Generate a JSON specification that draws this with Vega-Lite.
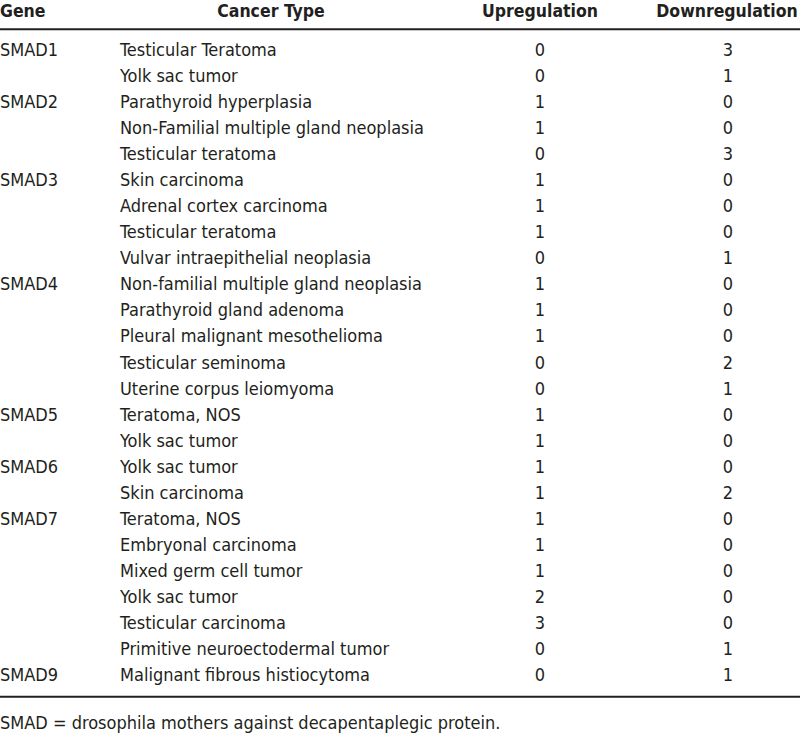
{
  "$schema": "https://vega.github.io/schema/vega-lite/v6.json",
  "width": 800,
  "height": 735,
  "padding": 0,
  "autosize": "none",
  "background": "white",
  "config": {"view": {"stroke": null}, "text": {"font": "DejaVu Sans Condensed", "fontSize": 18, "color": "#231f20", "baseline": "middle"}},
  "data": {"values": [
    {"row": 1, "gene": "SMAD1", "type": "Testicular Teratoma", "up": 0, "down": 3},
    {"row": 2, "gene": "SMAD1", "type": "Yolk sac tumor", "up": 0, "down": 1},
    {"row": 3, "gene": "SMAD2", "type": "Parathyroid hyperplasia", "up": 1, "down": 0},
    {"row": 4, "gene": "SMAD2", "type": "Non-Familial multiple gland neoplasia", "up": 1, "down": 0},
    {"row": 5, "gene": "SMAD2", "type": "Testicular teratoma", "up": 0, "down": 3},
    {"row": 6, "gene": "SMAD3", "type": "Skin carcinoma", "up": 1, "down": 0},
    {"row": 7, "gene": "SMAD3", "type": "Adrenal cortex carcinoma", "up": 1, "down": 0},
    {"row": 8, "gene": "SMAD3", "type": "Testicular teratoma", "up": 1, "down": 0},
    {"row": 9, "gene": "SMAD3", "type": "Vulvar intraepithelial neoplasia", "up": 0, "down": 1},
    {"row": 10, "gene": "SMAD4", "type": "Non-familial multiple gland neoplasia", "up": 1, "down": 0},
    {"row": 11, "gene": "SMAD4", "type": "Parathyroid gland adenoma", "up": 1, "down": 0},
    {"row": 12, "gene": "SMAD4", "type": "Pleural malignant mesothelioma", "up": 1, "down": 0},
    {"row": 13, "gene": "SMAD4", "type": "Testicular seminoma", "up": 0, "down": 2},
    {"row": 14, "gene": "SMAD4", "type": "Uterine corpus leiomyoma", "up": 0, "down": 1},
    {"row": 15, "gene": "SMAD5", "type": "Teratoma, NOS", "up": 1, "down": 0},
    {"row": 16, "gene": "SMAD5", "type": "Yolk sac tumor", "up": 1, "down": 0},
    {"row": 17, "gene": "SMAD6", "type": "Yolk sac tumor", "up": 1, "down": 0},
    {"row": 18, "gene": "SMAD6", "type": "Skin carcinoma", "up": 1, "down": 2},
    {"row": 19, "gene": "SMAD7", "type": "Teratoma, NOS", "up": 1, "down": 0},
    {"row": 20, "gene": "SMAD7", "type": "Embryonal carcinoma", "up": 1, "down": 0},
    {"row": 21, "gene": "SMAD7", "type": "Mixed germ cell tumor", "up": 1, "down": 0},
    {"row": 22, "gene": "SMAD7", "type": "Yolk sac tumor", "up": 2, "down": 0},
    {"row": 23, "gene": "SMAD7", "type": "Testicular carcinoma", "up": 3, "down": 0},
    {"row": 24, "gene": "SMAD7", "type": "Primitive neuroectodermal tumor", "up": 0, "down": 1},
    {"row": 25, "gene": "SMAD9", "type": "Malignant fibrous histiocytoma", "up": 0, "down": 1}
  ]},
  "layer": [
    {
      "transform": [
        {"window": [{"op": "row_number", "as": "rk"}], "groupby": ["gene"], "sort": [{"field": "row"}]},
        {"filter": "datum.rk == 1"}
      ],
      "mark": {"type": "text", "align": "left"},
      "encoding": {
        "x": {"datum": 0, "type": "quantitative", "scale": {"domain": [0, 800], "range": [0, 800], "nice": false, "zero": false}, "axis": null},
        "y": {"field": "row", "type": "quantitative", "scale": {"domain": [-0.96, 27.266], "reverse": true, "nice": false, "zero": false}, "axis": null},
        "text": {"field": "gene"}
      }
    },
    {
      "mark": {"type": "text", "align": "left"},
      "encoding": {
        "x": {"datum": 120, "type": "quantitative"},
        "y": {"field": "row", "type": "quantitative"},
        "text": {"field": "type"}
      }
    },
    {
      "mark": {"type": "text", "align": "center"},
      "encoding": {
        "x": {"datum": 540, "type": "quantitative"},
        "y": {"field": "row", "type": "quantitative"},
        "text": {"field": "up"}
      }
    },
    {
      "mark": {"type": "text", "align": "center"},
      "encoding": {
        "x": {"datum": 728, "type": "quantitative"},
        "y": {"field": "row", "type": "quantitative"},
        "text": {"field": "down"}
      }
    },
    {
      "data": {"values": [{"label": "Gene"}]},
      "mark": {"type": "text", "align": "left", "fontWeight": "bold", "fontSize": 17.5},
      "encoding": {
        "x": {"datum": 0, "type": "quantitative"},
        "y": {"datum": -0.5, "type": "quantitative"},
        "text": {"field": "label"}
      }
    },
    {
      "data": {"values": [{"label": "Cancer Type"}]},
      "mark": {"type": "text", "align": "center", "fontWeight": "bold", "fontSize": 17.5},
      "encoding": {
        "x": {"datum": 271, "type": "quantitative"},
        "y": {"datum": -0.5, "type": "quantitative"},
        "text": {"field": "label"}
      }
    },
    {
      "data": {"values": [{"label": "Upregulation"}]},
      "mark": {"type": "text", "align": "center", "fontWeight": "bold", "fontSize": 17.5},
      "encoding": {
        "x": {"datum": 540, "type": "quantitative"},
        "y": {"datum": -0.5, "type": "quantitative"},
        "text": {"field": "label"}
      }
    },
    {
      "data": {"values": [{"label": "Downregulation"}]},
      "mark": {"type": "text", "align": "center", "fontWeight": "bold", "fontSize": 17.5},
      "encoding": {
        "x": {"datum": 727, "type": "quantitative"},
        "y": {"datum": -0.5, "type": "quantitative"},
        "text": {"field": "label"}
      }
    },
    {
      "data": {"values": [{"y": 0.165}, {"y": 25.795}]},
      "mark": {"type": "rule", "strokeWidth": 2, "color": "#231f20"},
      "encoding": {
        "y": {"field": "y", "type": "quantitative"},
        "x": {"datum": 0, "type": "quantitative"},
        "x2": {"datum": 800}
      }
    },
    {
      "data": {"values": [{"note": "SMAD = drosophila mothers against decapentaplegic protein."}]},
      "mark": {"type": "text", "align": "left"},
      "encoding": {
        "x": {"datum": 0, "type": "quantitative"},
        "y": {"datum": 26.84, "type": "quantitative"},
        "text": {"field": "note"}
      }
    }
  ]
}
